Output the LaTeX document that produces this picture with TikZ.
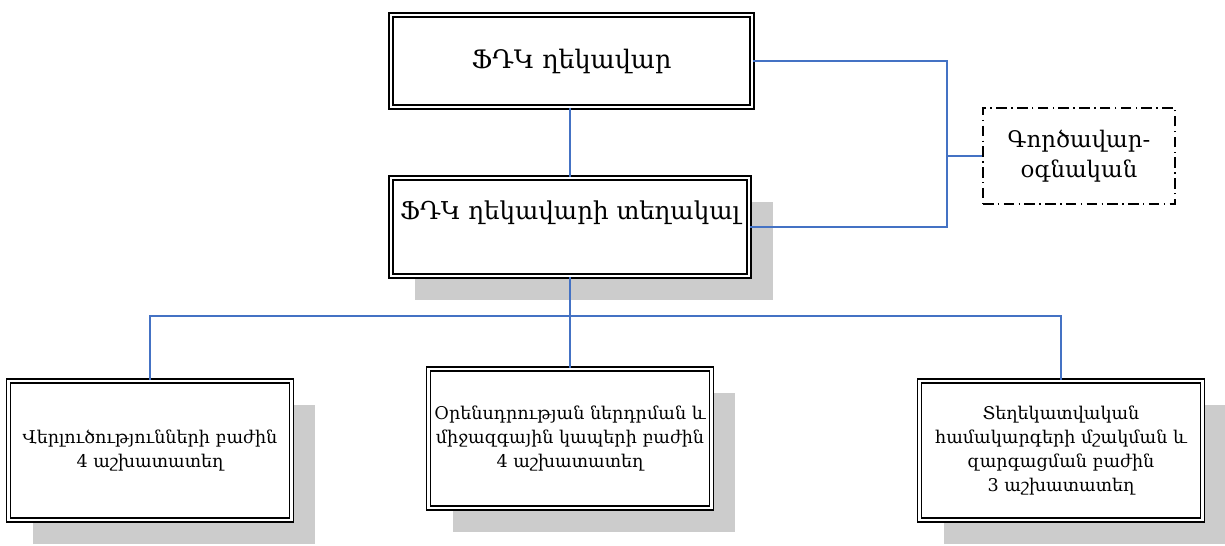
\documentclass[tikz,border=0pt]{standalone}
\usepackage{fontspec}
\setmainfont{DejaVu Serif}
\usepackage{tikz}
\usetikzlibrary{shadows}
\definecolor{linkblue}{HTML}{4472C4}
\definecolor{shade}{HTML}{CCCCCC}

\begin{document}
\begin{tikzpicture}[x=0.02cm, y=-0.02cm,
  unit/.style={draw, double, double distance=1.2pt, line width=1pt, fill=white, align=center, inner sep=2pt},
  shaded/.style={unit, drop shadow={shadow xshift=0.48cm, shadow yshift=-0.48cm, fill=shade, opacity=1}},
  dept/.style={shaded, minimum width=5.66cm, minimum height=2.78cm, font=\fontsize{10}{13.6}\selectfont},
  link/.style={linkblue, line width=0.9pt}]
\useasboundingbox (0,0) rectangle (1225,546);
\node[unit, minimum width=7.22cm, minimum height=1.84cm, font=\fontsize{14.5}{17}\selectfont] (boss) at (571.5,61) {ՖԴԿ ղեկավար};
\node[shaded, minimum width=7.16cm, minimum height=1.96cm, text height=0.35cm, text depth=0.63cm, font=\fontsize{14}{17}\selectfont] (deputy) at (570,227) {ՖԴԿ ղեկավարի տեղակալ};
\node[draw, line width=0.8pt, dash pattern=on 6pt off 2.5pt on 0.8pt off 2.5pt, minimum width=3.84cm, minimum height=1.92cm, align=center, font=\fontsize{13}{17}\selectfont] (helper) at (1079,156) {Գործավար-\\օգնական};
\node[dept] (analysis) at (150,450.5) {Վերլուծությունների բաժին\\4 աշխատատեղ};
\node[dept] (law) at (570,438.5) {Օրենսդրության ներդրման և\\միջազգային կապերի բաժին\\4 աշխատատեղ};
\node[dept] (info) at (1061,450.5) {Տեղեկատվական\\համակարգերի մշակման և\\զարգացման բաժին\\3 աշխատատեղ};
\coordinate (junc) at (947,156);
\coordinate (hub) at (570,316);
\draw[link] (deputy.north) -- (deputy.north |- boss.south);
\draw[link] (boss.east) -| (junc) |- (deputy.east);
\draw[link] (junc) -- (helper.west);
\draw[link] (deputy.south) -- (law.north);
\draw[link] (analysis.north) |- (hub) -| (info.north);
\end{tikzpicture}
\end{document}
